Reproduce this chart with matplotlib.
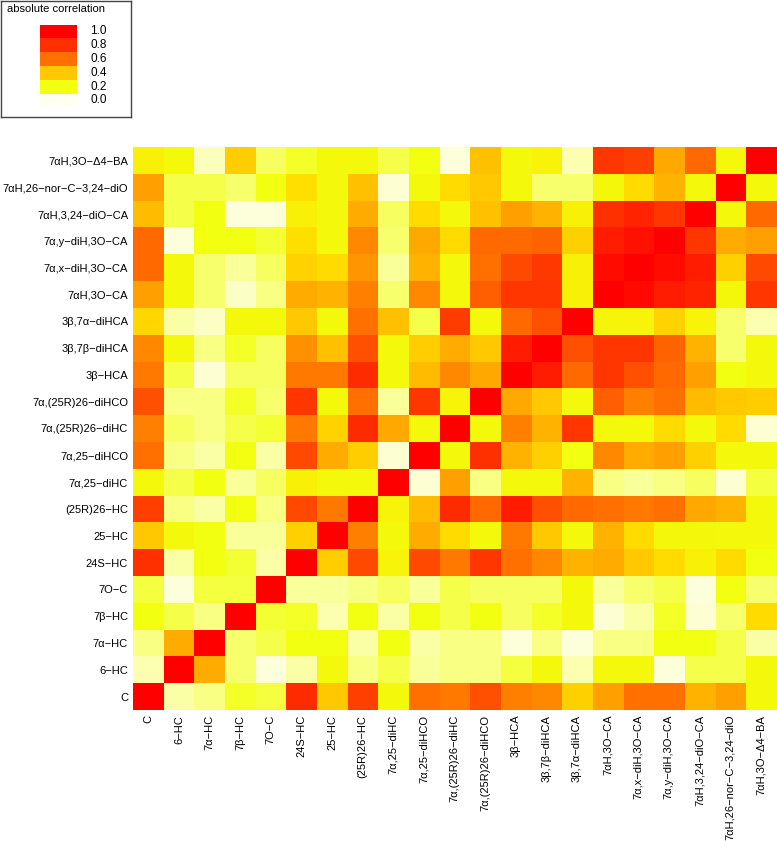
import numpy as np
import matplotlib
matplotlib.use("Agg")
import matplotlib.pyplot as plt
from matplotlib.colors import LinearSegmentedColormap

plt.rcParams["font.family"] = ["Liberation Sans", "DejaVu Sans"]

M = "\u2212"
names = ["C", "6-HC", "7α-HC", "7β-HC", "7O-C", "24S-HC", "25-HC", "(25R)26-HC",
         "7α,25-diHC", "7α,25-diHCO", "7α,(25R)26-diHC", "7α,(25R)26-diHCO",
         "3β-HCA", "3β,7β-diHCA", "3β,7α-diHCA", "7αH,3O-CA", "7α,x-diH,3O-CA",
         "7α,y-diH,3O-CA", "7αH,3,24-diO-CA", "7αH,26-nor-C-3,24-diO", "7αH,3O-Δ4-BA"]
labels = [n.replace("-", M) for n in names]

# absolute correlation, one row per compound (same order as names)
corr = [
    [1.00, 0.07, 0.10, 0.18, 0.16, 0.82, 0.40, 0.75, 0.22, 0.60, 0.58, 0.70, 0.57, 0.55, 0.37, 0.50, 0.60, 0.60, 0.45, 0.50, 0.22],
    [0.06, 1.00, 0.47, 0.12, 0.02, 0.07, 0.22, 0.10, 0.15, 0.08, 0.10, 0.10, 0.16, 0.22, 0.06, 0.22, 0.22, 0.02, 0.15, 0.15, 0.22],
    [0.10, 0.47, 1.00, 0.12, 0.15, 0.20, 0.20, 0.07, 0.20, 0.07, 0.10, 0.10, 0.02, 0.10, 0.02, 0.10, 0.10, 0.20, 0.20, 0.15, 0.07],
    [0.20, 0.15, 0.10, 1.00, 0.17, 0.18, 0.06, 0.20, 0.07, 0.20, 0.15, 0.20, 0.13, 0.18, 0.22, 0.03, 0.07, 0.18, 0.03, 0.12, 0.33],
    [0.16, 0.02, 0.16, 0.16, 1.00, 0.08, 0.08, 0.10, 0.13, 0.08, 0.15, 0.13, 0.13, 0.13, 0.22, 0.08, 0.12, 0.15, 0.02, 0.20, 0.12],
    [0.80, 0.07, 0.20, 0.17, 0.07, 1.00, 0.38, 0.72, 0.24, 0.72, 0.58, 0.78, 0.60, 0.55, 0.45, 0.47, 0.40, 0.33, 0.25, 0.33, 0.20],
    [0.40, 0.22, 0.20, 0.08, 0.08, 0.37, 1.00, 0.57, 0.22, 0.47, 0.33, 0.22, 0.58, 0.40, 0.22, 0.45, 0.33, 0.23, 0.23, 0.22, 0.22],
    [0.75, 0.10, 0.07, 0.20, 0.10, 0.72, 0.58, 1.00, 0.24, 0.43, 0.82, 0.62, 0.88, 0.70, 0.62, 0.60, 0.58, 0.60, 0.48, 0.45, 0.22],
    [0.22, 0.15, 0.20, 0.08, 0.13, 0.25, 0.22, 0.22, 1.00, 0.03, 0.50, 0.10, 0.22, 0.22, 0.45, 0.10, 0.08, 0.10, 0.13, 0.03, 0.16],
    [0.60, 0.10, 0.07, 0.20, 0.07, 0.72, 0.47, 0.38, 0.03, 1.00, 0.22, 0.80, 0.45, 0.37, 0.20, 0.55, 0.47, 0.50, 0.37, 0.22, 0.22],
    [0.57, 0.13, 0.10, 0.15, 0.17, 0.58, 0.36, 0.82, 0.48, 0.22, 1.00, 0.22, 0.57, 0.45, 0.78, 0.22, 0.22, 0.33, 0.22, 0.33, 0.03],
    [0.70, 0.10, 0.10, 0.18, 0.12, 0.78, 0.22, 0.60, 0.08, 0.78, 0.24, 1.00, 0.48, 0.40, 0.22, 0.65, 0.57, 0.60, 0.43, 0.40, 0.38],
    [0.58, 0.15, 0.03, 0.13, 0.13, 0.58, 0.58, 0.82, 0.22, 0.43, 0.55, 0.48, 1.00, 0.88, 0.62, 0.78, 0.70, 0.62, 0.50, 0.20, 0.22],
    [0.55, 0.22, 0.10, 0.18, 0.13, 0.53, 0.42, 0.70, 0.22, 0.38, 0.47, 0.40, 0.88, 1.00, 0.70, 0.78, 0.78, 0.64, 0.45, 0.12, 0.22],
    [0.35, 0.07, 0.04, 0.22, 0.22, 0.40, 0.22, 0.60, 0.42, 0.15, 0.76, 0.22, 0.62, 0.70, 1.00, 0.24, 0.24, 0.36, 0.24, 0.12, 0.06],
    [0.50, 0.22, 0.12, 0.04, 0.10, 0.47, 0.45, 0.57, 0.12, 0.55, 0.22, 0.65, 0.78, 0.78, 0.25, 1.00, 0.96, 0.88, 0.85, 0.23, 0.78],
    [0.62, 0.22, 0.12, 0.08, 0.13, 0.36, 0.33, 0.52, 0.08, 0.45, 0.22, 0.60, 0.72, 0.77, 0.25, 0.95, 1.00, 0.95, 0.88, 0.37, 0.72],
    [0.62, 0.02, 0.20, 0.20, 0.17, 0.32, 0.22, 0.55, 0.12, 0.48, 0.33, 0.62, 0.62, 0.64, 0.37, 0.88, 0.93, 1.00, 0.78, 0.47, 0.50],
    [0.43, 0.15, 0.20, 0.02, 0.02, 0.25, 0.22, 0.47, 0.13, 0.33, 0.22, 0.42, 0.50, 0.45, 0.25, 0.80, 0.85, 0.78, 1.00, 0.22, 0.62],
    [0.50, 0.15, 0.15, 0.12, 0.20, 0.32, 0.22, 0.42, 0.03, 0.22, 0.33, 0.40, 0.22, 0.12, 0.12, 0.23, 0.33, 0.45, 0.22, 1.00, 0.22],
    [0.25, 0.22, 0.05, 0.38, 0.13, 0.18, 0.22, 0.22, 0.15, 0.20, 0.02, 0.42, 0.22, 0.24, 0.06, 0.78, 0.75, 0.48, 0.62, 0.22, 1.00],
]

key_values = [1.0, 0.8, 0.6, 0.4, 0.2, 0.0]

# white -> yellow -> orange -> red
cmap = LinearSegmentedColormap.from_list("heat", [
    (0.00, "#FFFFF2"), (0.20, "#F2FF10"), (0.30, "#FFE400"), (0.40, "#FFC800"),
    (0.50, "#FFA000"), (0.60, "#FF7000"), (0.80, "#FF3000"), (1.00, "#FF0000")])

W, H = 777, 841
fig = plt.figure(figsize=(W / 100, H / 100), dpi=100)

ax = fig.add_axes([133 / W, 1 - 710 / H, 643 / W, 563 / H])
ax.imshow(np.array(corr), cmap=cmap, vmin=0, vmax=1, origin="lower",
          aspect="auto", interpolation="nearest")
ax.set_xticks(range(len(names)))
ax.set_yticks(range(len(names)))
ax.set_xticklabels(labels, rotation=90, fontsize=8)
ax.set_yticklabels(labels, fontsize=8)
ax.tick_params(length=0, pad=3.5)
for s in ax.spines.values():
    s.set_visible(False)

# colour key box top left
kax = fig.add_axes([0.5 / W, 1 - 117 / H, 131 / W, 116.5 / H])
kax.set_xlim(0, 131)
kax.set_ylim(116.5, 0)
kax.set_xticks([])
kax.set_yticks([])
for s in kax.spines.values():
    s.set_color("#444444")
    s.set_linewidth(1)
kax.text(7, 8, "absolute correlation", fontsize=8, va="center", ha="left")
h = 13.8
for i, v in enumerate(key_values):
    kax.add_patch(plt.Rectangle((40, 24 + i * h), 37, h, color=cmap(v), lw=0))
    kax.text(90, 24 + (i + 0.5) * h, f"{v:.1f}", fontsize=8.5, va="center", ha="left")

fig.savefig("out.png", dpi=100)
